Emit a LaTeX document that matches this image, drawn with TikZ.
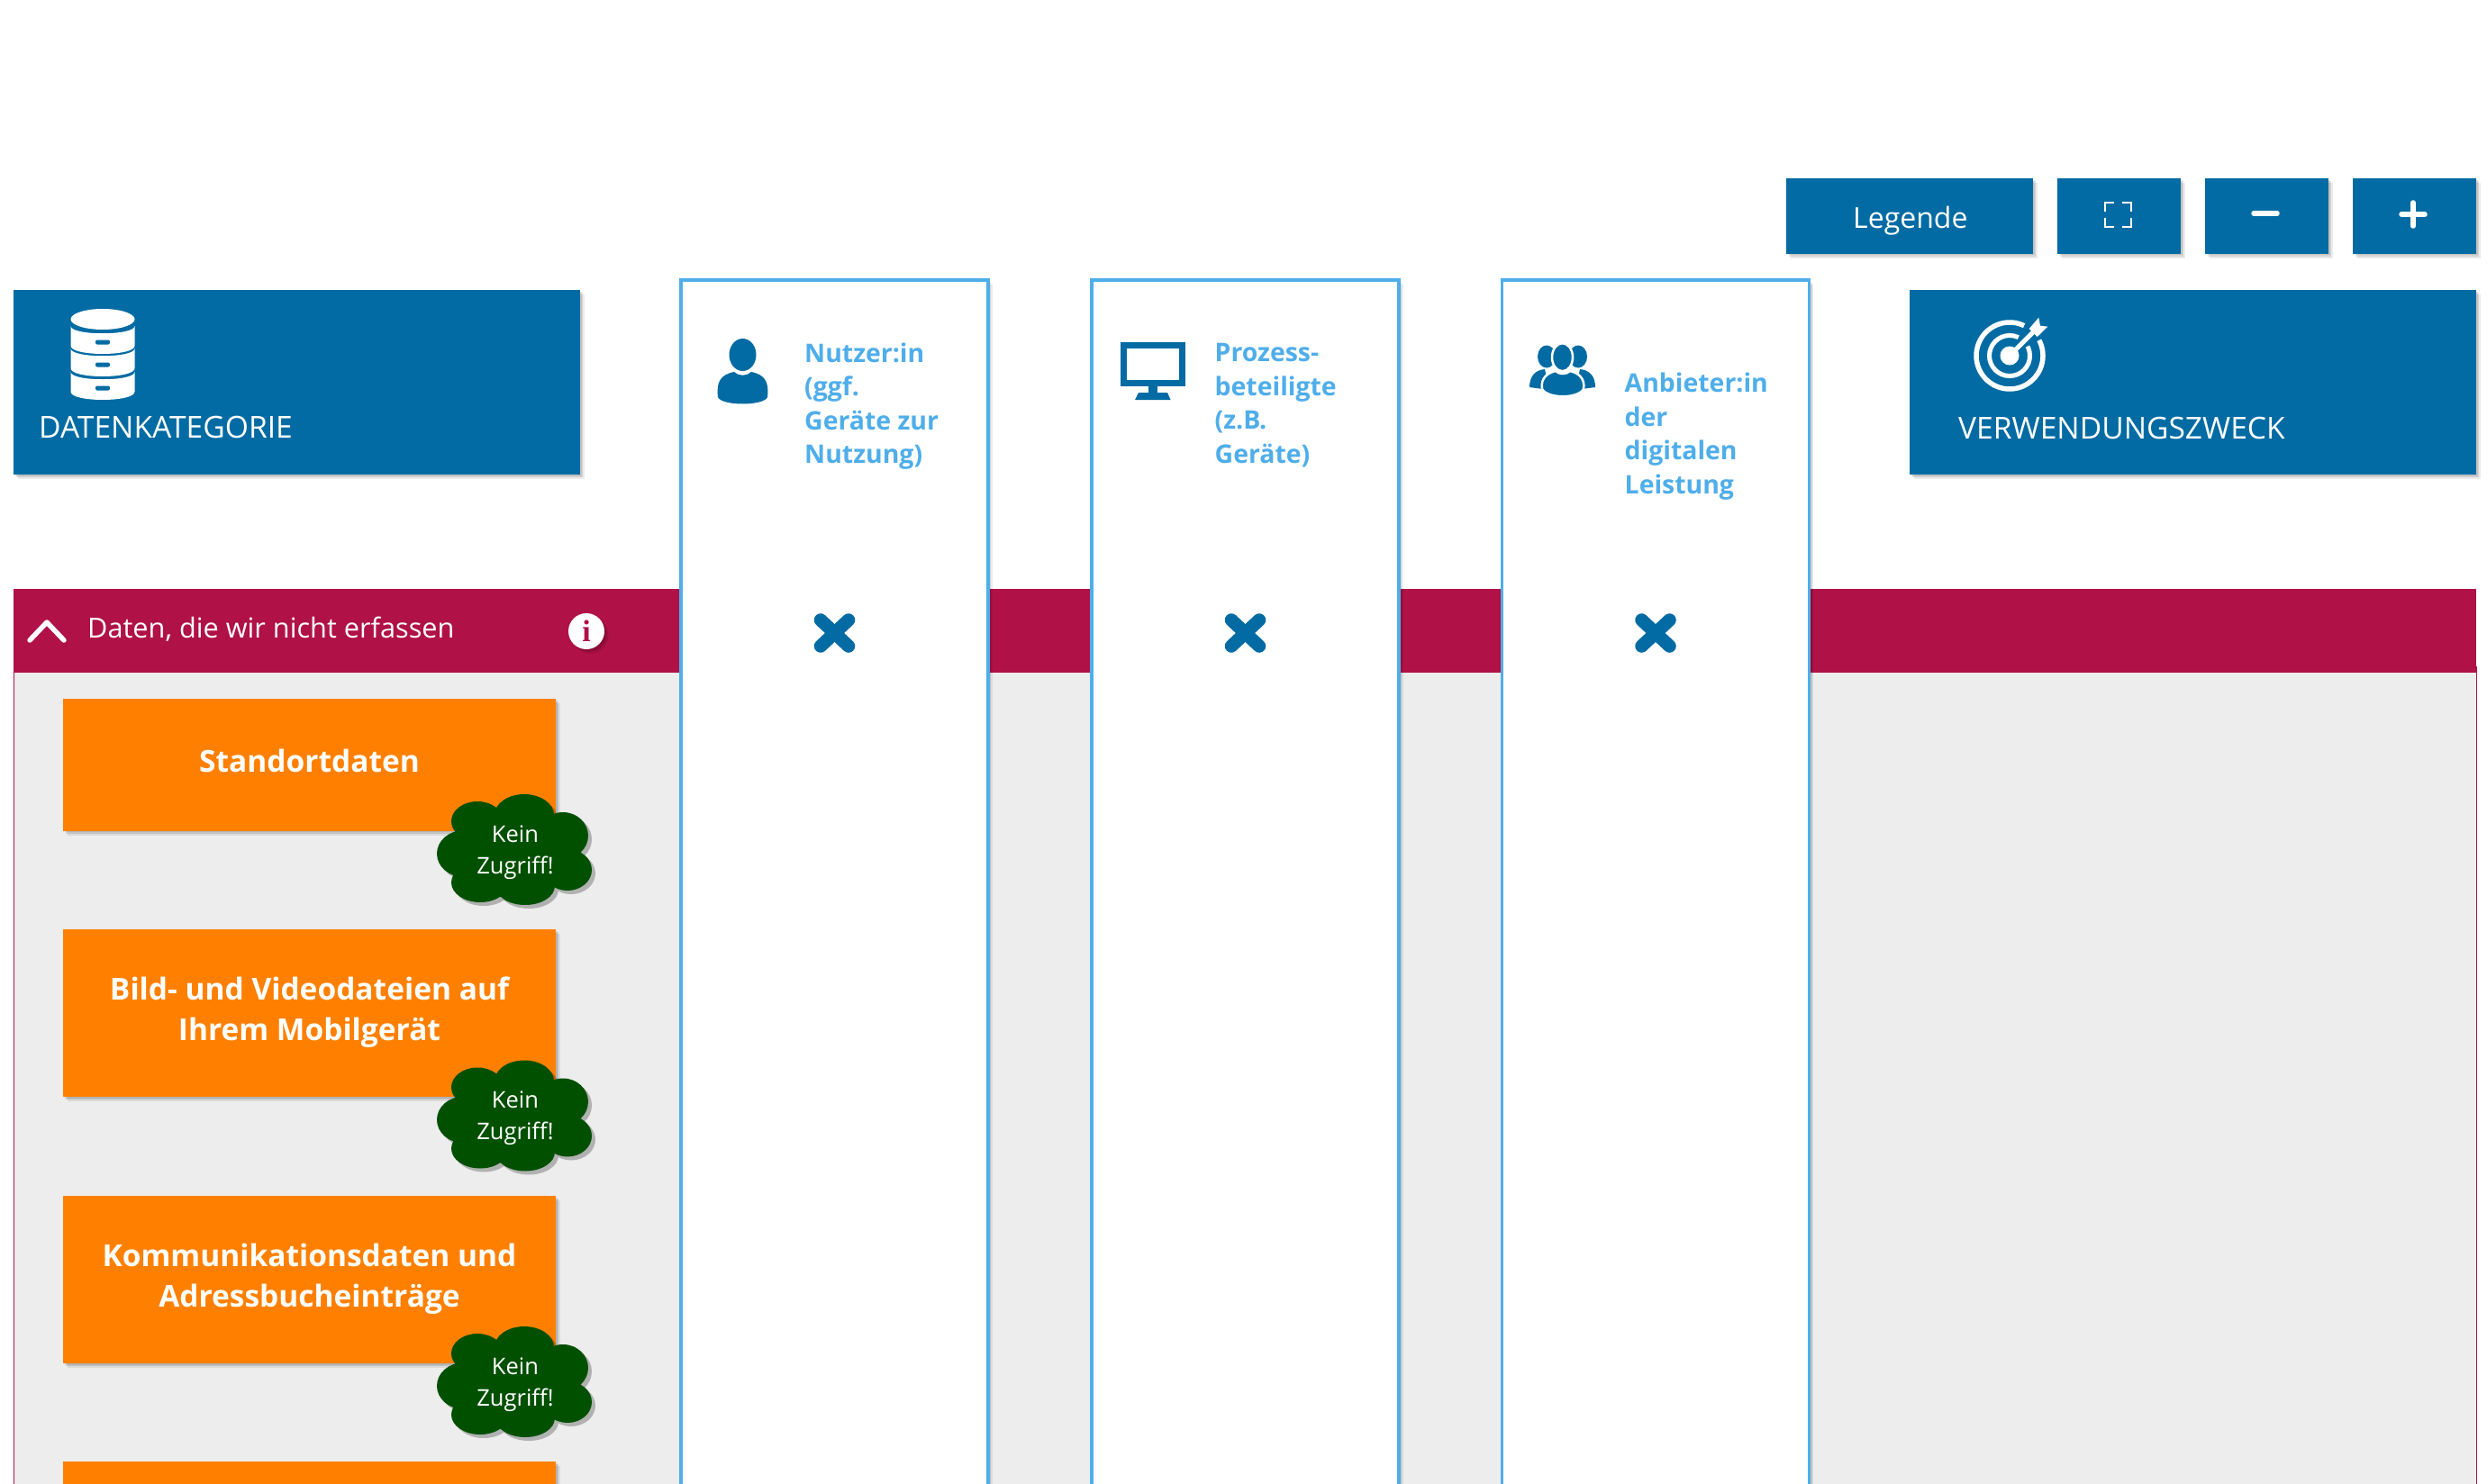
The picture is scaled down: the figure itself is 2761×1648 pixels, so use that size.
\documentclass[tikz,border=0pt]{standalone}
\usepackage{fontspec}
\setmainfont{Open Sans}
\usetikzlibrary{positioning,
                shadows
            }
\definecolor{hdblue}{HTML}{026BA3}
\definecolor{colblue}{HTML}{4FAEEA}
\definecolor{bandred}{HTML}{B01146}
\definecolor{panelgrey}{HTML}{EDEDED}
\definecolor{dataorange}{HTML}{FF8000}
\definecolor{clouddark}{HTML}{005000}
\tikzset{
    softshadow/.style={
        general shadow={fill=black,opacity=.08,shadow xshift=1.5pt,shadow yshift=-1.5pt},
        general shadow={fill=black,opacity=.10,shadow xshift=3pt,shadow yshift=-3pt},
        general shadow={fill=black,opacity=.08,shadow xshift=4.5pt,shadow yshift=-5pt}},
    hdbox/.style={fill=hdblue, inner sep=0, outer sep=0, softshadow},
    databox/.style={fill=dataorange, inner sep=0, outer sep=0, softshadow},
    datatext/.style={text=white, align=center, inner sep=0,
        font=\fontsize{33.5}{45}\selectfont\bfseries},
    colbox/.style={draw=colblue, line width=3.5pt, fill=white, inner sep=0, outer sep=0, softshadow,
        minimum width=341pt, minimum height=1360pt},
    coltext/.style={text=colblue, align=left, inner sep=0, anchor=north west,
        font=\fontsize{28.4}{37.5}\selectfont\bfseries},
    hdtext/.style={text=white, inner sep=0, anchor=base west, font=\fontsize{33.6}{36}\selectfont},
    nokey/.style={text=white, inner sep=0, align=center, font=\fontsize{25.5}{35}\selectfont},
    crossmark/.style={hdblue, line width=14.5pt, line cap=round}
}
% one slab of the database icon
\newcommand{\dbslab}[1]{
    \fill[white] (78.5,#1) .. controls (78.5,#1+11) and (149.5,#1+11) .. (149.5,#1)
        -- (149.5,#1+22) .. controls (149.5,#1+34) and (78.5,#1+34) .. (78.5,#1+22) -- cycle;
    \fill[hdblue, rounded corners=2pt] (106,#1+15.5) rectangle (122,#1+20.5);
}
\newcommand{\cloudpath}{
    (582,905) ellipse [x radius=33, y radius=23]
    (530,912) ellipse [x radius=29, y radius=22]
    (515,948) ellipse [x radius=30, y radius=26]
    (533,980) ellipse [x radius=32, y radius=22]
    (583,984) ellipse [x radius=33, y radius=21]
    (630,966) ellipse [x radius=27, y radius=23]
    (625,928) ellipse [x radius=28, y radius=26]
    (572,943) ellipse [x radius=70, y radius=48]
}
% green cloud, #1 is the offset from the first one
\newcommand{\denycloud}[1]{
    \fill[black, opacity=.25, yshift={-(#1)*1pt-4pt}, xshift=4pt] \cloudpath;
    \fill[clouddark, yshift={-(#1)*1pt}] \cloudpath;
}
\newcommand{\crossat}[2]{
    \draw[crossmark] (#1-15.5,#2-14.5) -- (#1+15.5,#2+14.5);
    \draw[crossmark] (#1+15.5,#2-14.5) -- (#1-15.5,#2+14.5);
}
\begin{document}
\begin{tikzpicture}[x=1pt, y=-1pt]
    \useasboundingbox (0,0) rectangle (2761,1648);

    % panel and band
    \node[fill=panelgrey, draw=bandred, line width=1pt, minimum width=2734pt, minimum height=960pt, inner sep=0, outer sep=0] (panel) at (1382,1220) {};
    \node[fill=bandred, minimum width=2734pt, minimum height=93pt, inner sep=0, outer sep=0] (band) at (1382,700.5) {};
    \draw[white, line width=5.5pt, line cap=round, line join=round] (33,711) -- (52,691) -- (71,711);
    \node[hdtext, font=\fontsize{30.7}{36}\selectfont] (bandtext) at (97,708) {Daten, die wir nicht erfassen};
    \node[circle, fill=white, minimum size=40pt, inner sep=0, softshadow, text=bandred,
        font=\fontsize{34}{34}\selectfont\bfseries\fontspec{Liberation Serif}] (info) at (651,701) {i};

    % data boxes
    \node[databox, minimum width=547pt, minimum height=147pt] (standort) at (343.5,849) {};
    \node[databox, minimum width=547pt, minimum height=186pt] (bild) at (343.5,1125) {};
    \node[databox, minimum width=547pt, minimum height=186pt] (komm) at (343.5,1421) {};
    \node[databox, minimum width=547pt, minimum height=186pt] (nextbox) at (343.5,1716) {};
    \node[datatext] (standorttext) at (343.5,845) {Standortdaten};
    \node[datatext] (bildtext) at (343.5,1124) {Bild- und Videodateien auf\\Ihrem Mobilgerät};
    \node[datatext] (kommtext) at (343.5,1420) {Kommunikationsdaten und\\Adressbucheinträge};

    % clouds
    \denycloud{0}
    \denycloud{295.5}
    \denycloud{591}
    \node[nokey] (kein1) at (572,946.5) {Kein\\Zugriff!};
    \node[nokey] (kein2) at (572,1242) {Kein\\Zugriff!};
    \node[nokey] (kein3) at (572,1537.5) {Kein\\Zugriff!};

    % headers
    \node[hdbox, minimum width=629pt, minimum height=205pt] (datenkat) at (329.5,424.5) {};
    \node[hdtext] (datenkattext) at (43,486) {DATENKATEGORIE};
    \node[hdbox, minimum width=629pt, minimum height=205pt] (zweck) at (2434.5,424.5) {};
    \node[hdtext] (zwecktext) at (2174,487) {VERWENDUNGSZWECK};

    % buttons
    \node[hdbox, minimum width=274pt, minimum height=83pt] (legende) at (2120,240) {};
    \node[hdbox, minimum width=137pt, minimum height=83pt] (vollbild) at (2352.5,240) {};
    \node[hdbox, minimum width=137pt, minimum height=83pt] (minus) at (2516.5,240) {};
    \node[hdbox, minimum width=137pt, minimum height=83pt] (plus) at (2680.5,240) {};
    \node[hdtext, font=\fontsize{32}{36}\selectfont] (legendetext) at (2057,253) {Legende};
    \draw[white, line width=2.5pt] (2337,235) -- (2337,225) -- (2347,225);
    \draw[white, line width=2.5pt] (2356,225) -- (2366,225) -- (2366,235);
    \draw[white, line width=2.5pt] (2337,242) -- (2337,252) -- (2347,252);
    \draw[white, line width=2.5pt] (2356,252) -- (2366,252) -- (2366,242);
    \draw[white, line width=5.5pt, line cap=round] (2502,237) -- (2528,237);
    \draw[white, line width=5.5pt, line cap=round] (2666,238) -- (2692,238);
    \draw[white, line width=5.5pt, line cap=round] (2679,225) -- (2679,251);

    % columns
    \node[colbox] (nutzer) at (926.5,991) {};
    \node[colbox] (prozess) at (1382.5,991) {};
    \node[colbox] (anbieter) at (1838,991) {};
    \node[coltext] (nutzertext) at (893,380.5) {Nutzer:in\\(ggf.\\Geräte zur\\Nutzung)};
    \node[coltext] (prozesstext) at (1348.5,381.5) {Prozess-\\beteiligte\\(z.B.\\Geräte)};
    \node[coltext] (anbietertext) at (1803.5,414) {Anbieter:in\\der\\digitalen\\Leistung};
    \crossat{926.5}{703}
    \crossat{1382.5}{703}
    \crossat{1838}{703}

    % database icon
    \fill[white] (114,354.5) ellipse [x radius=35.5, y radius=11.5];
    \dbslab{362}
    \dbslab{387}
    \dbslab{413}

    % person icon
    \fill[hdblue] (824.5,394) ellipse [x radius=15, y radius=18];
    \fill[hdblue] (797,441) .. controls (795,424) and (800,416) .. (815,413)
        .. controls (820,418) and (829,418) .. (834,413)
        .. controls (849,416) and (854,424) .. (852,441)
        .. controls (848,451) and (801,451) .. (797,441) -- cycle;

    % monitor icon
    \draw[hdblue, line width=7pt] (1247,383.5) rectangle (1312.5,425.5);
    \fill[hdblue] (1275,429) rectangle (1285,436);
    \fill[hdblue] (1264,436) -- (1296,436) -- (1299.5,444) -- (1260,444) -- cycle;

    % people icon
    \fill[hdblue] (1717,396) ellipse [x radius=10, y radius=12.5];
    \fill[hdblue] (1752,396) ellipse [x radius=10, y radius=12.5];
    \fill[hdblue] (1698,430) .. controls (1698,418) and (1704,411) .. (1715,410) -- (1720,433) -- cycle;
    \fill[hdblue] (1771,430) .. controls (1771,418) and (1765,411) .. (1754,410) -- (1749,433) -- cycle;
    \fill[hdblue, draw=white, line width=2.5pt] (1734.5,396.7) ellipse [x radius=11.5, y radius=15.5];
    \fill[hdblue, draw=white, line width=2.5pt] (1712,432) .. controls (1710,420) and (1718,414) .. (1727,412)
        .. controls (1731,416) and (1739,416) .. (1743,412)
        .. controls (1752,414) and (1760,420) .. (1758,432)
        .. controls (1752,443) and (1718,443) .. (1712,432) -- cycle;

    % target icon
    \draw[white, line width=5.5pt] (2231,395) circle [radius=37];
    \draw[white, line width=5pt] (2231,395) circle [radius=22.5];
    \fill[hdblue] (2231,395) -- (2250.7,354.6) -- (2270.7,373.9) -- cycle;
    \fill[white] (2231,395) circle [radius=10.5];
    \draw[white, line width=5pt] (2233,393) -- (2258,368);
    \fill[white] (2252.7,365) -- (2263.3,352.7) -- (2265,361.7) -- (2273.3,362.7) -- (2261.7,374) -- cycle;
\end{tikzpicture}
\end{document}
